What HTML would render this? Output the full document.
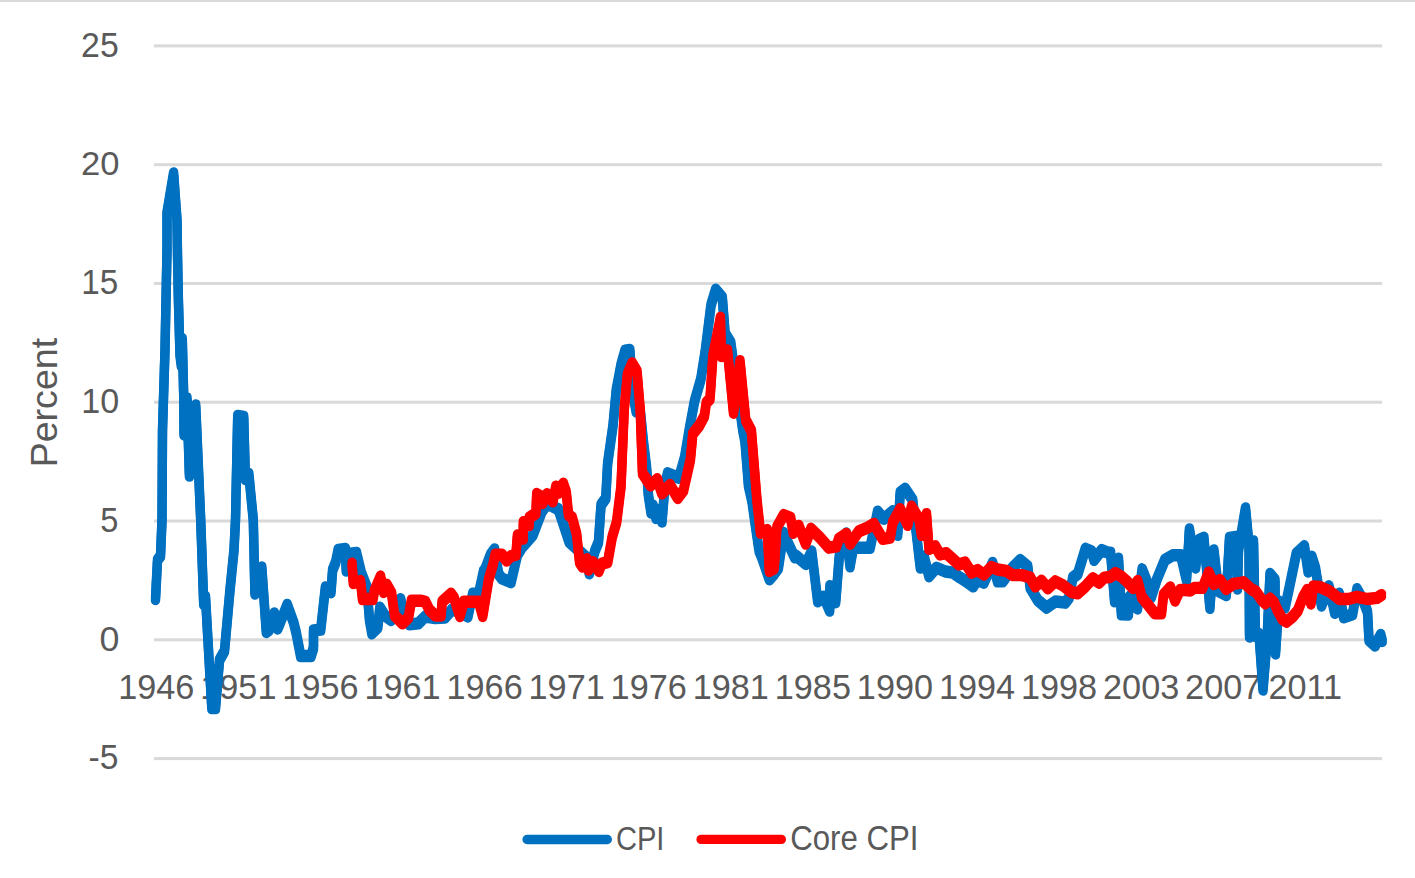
<!DOCTYPE html>
<html><head><meta charset="utf-8"><style>
html,body{margin:0;padding:0;background:#fff;width:1415px;height:878px;overflow:hidden}
svg{display:block}
.t{font-family:"Liberation Sans",sans-serif;font-size:36px;fill:#595959}
</style></head><body>
<svg width="1415" height="878" viewBox="0 0 1415 878">
<rect x="0" y="0" width="1415" height="2" fill="#d9d9d9"/>
<rect x="154" y="44.4" width="1228" height="3" fill="#d9d9d9"/>
<rect x="154" y="163.2" width="1228" height="3" fill="#d9d9d9"/>
<rect x="154" y="282.0" width="1228" height="3" fill="#d9d9d9"/>
<rect x="154" y="400.7" width="1228" height="3" fill="#d9d9d9"/>
<rect x="154" y="519.5" width="1228" height="3" fill="#d9d9d9"/>
<rect x="154" y="638.3" width="1228" height="3" fill="#d9d9d9"/>
<rect x="154" y="757.1" width="1228" height="3" fill="#d9d9d9"/>
<text transform="matrix(0.9415 0 0 0.9647 81.05 57.06)" class="t">25</text>
<text transform="matrix(0.9605 0 0 0.9451 81.02 174.76)" class="t">20</text>
<text transform="matrix(0.9245 0 0 0.9624 81.31 293.86)" class="t">15</text>
<text transform="matrix(0.9469 0 0 0.9608 81.35 413.06)" class="t">10</text>
<text transform="matrix(0.9059 0 0 0.9584 100.24 531.96)" class="t">5</text>
<text transform="matrix(0.9941 0 0 0.9529 99.61 650.86)" class="t">0</text>
<text transform="matrix(0.9345 0 0 0.9584 88.50 768.96)" class="t">-5</text>
<text transform="matrix(0.9518 0 0 0.9569 156.30 699.06)" text-anchor="middle" class="t">1946</text>
<text transform="matrix(0.9518 0 0 0.9569 238.37 699.06)" text-anchor="middle" class="t">1951</text>
<text transform="matrix(0.9518 0 0 0.9569 320.44 699.06)" text-anchor="middle" class="t">1956</text>
<text transform="matrix(0.9518 0 0 0.9569 402.51 699.06)" text-anchor="middle" class="t">1961</text>
<text transform="matrix(0.9518 0 0 0.9569 484.58 699.06)" text-anchor="middle" class="t">1966</text>
<text transform="matrix(0.9518 0 0 0.9569 566.65 699.06)" text-anchor="middle" class="t">1971</text>
<text transform="matrix(0.9518 0 0 0.9569 648.72 699.06)" text-anchor="middle" class="t">1976</text>
<text transform="matrix(0.9518 0 0 0.9569 730.79 699.06)" text-anchor="middle" class="t">1981</text>
<text transform="matrix(0.9518 0 0 0.9569 812.86 699.06)" text-anchor="middle" class="t">1985</text>
<text transform="matrix(0.9518 0 0 0.9569 894.93 699.06)" text-anchor="middle" class="t">1990</text>
<text transform="matrix(0.9518 0 0 0.9569 977.00 699.06)" text-anchor="middle" class="t">1994</text>
<text transform="matrix(0.9518 0 0 0.9569 1059.07 699.06)" text-anchor="middle" class="t">1998</text>
<text transform="matrix(0.9518 0 0 0.9569 1141.14 699.06)" text-anchor="middle" class="t">2003</text>
<text transform="matrix(0.9518 0 0 0.9569 1223.21 699.06)" text-anchor="middle" class="t">2007</text>
<text transform="matrix(0.9518 0 0 0.9569 1305.28 699.06)" text-anchor="middle" class="t">2011</text>
<text transform="translate(57.04 467.33) rotate(-90) scale(1.0435 1.0337)" class="t">Percent</text>
<line x1="527.1" y1="839.5" x2="607.3" y2="839.5" stroke="#0070c0" stroke-width="9.4" stroke-linecap="round"/>
<text transform="matrix(0.8091 0 0 0.9437 615.88 849.76)" class="t">CPI</text>
<line x1="701.1" y1="839.4" x2="781.3" y2="839.4" stroke="#ff0000" stroke-width="9.4" stroke-linecap="round"/>
<text transform="matrix(0.8671 0 0 0.9553 790.18 849.96)" class="t">Core CPI</text>
<path d="M155.5 599.0 L157.5 560.0 L160.5 556.0 L162.0 520.0 L162.5 430.0 L165.0 350.0 L167.0 250.0 L167.0 213.0 L173.6 173.5 L177.0 220.0 L177.5 255.0 L178.4 300.0 L180.0 355.0 L181.3 365.5 L182.3 339.5 L183.8 400.0 L184.0 434.5 L187.0 398.5 L189.4 475.5 L195.7 405.5 L200.7 520.0 L203.7 604.0 L205.5 597.0 L211.8 708.0 L215.5 708.0 L219.5 660.0 L224.5 651.0 L229.9 591.0 L234.0 550.0 L235.5 520.0 L237.7 416.0 L243.7 417.0 L245.4 479.0 L248.8 474.0 L253.3 520.0 L254.9 593.5 L261.8 567.5 L266.3 632.0 L269.0 630.0 L274.4 613.5 L277.7 628.5 L287.2 604.9 L293.6 622.5 L296.0 632.0 L300.7 656.0 L311.0 656.0 L313.5 648.0 L313.5 630.5 L320.7 629.7 L325.4 587.4 L331.0 592.2 L332.6 569.9 L335.8 561.9 L338.2 550.0 L345.4 549.0 L346.2 570.5 L348.6 554.0 L356.5 553.0 L361.3 573.0 L366.9 587.3 L369.5 620.0 L371.9 633.3 L377.8 627.4 L379.8 607.6 L384.7 615.5 L391.0 620.0 L400.6 599.2 L403.5 611.6 L409.5 624.4 L418.4 623.4 L425.3 616.5 L435.0 618.0 L445.1 617.5 L452.0 609.6 L460.0 612.0 L467.8 616.5 L472.8 593.7 L478.7 593.7 L483.6 571.2 L485.0 569.6 L490.6 554.8 L494.6 549.4 L498.6 574.2 L501.9 578.5 L511.0 582.2 L517.4 554.8 L521.9 547.5 L532.9 534.8 L542.0 511.1 L547.4 503.8 L558.4 509.3 L569.3 542.1 L585.7 556.7 L589.4 573.4 L594.8 551.2 L598.5 542.0 L601.0 505.0 L605.8 498.3 L607.6 463.7 L613.0 425.7 L616.2 390.6 L621.0 365.1 L625.0 350.7 L629.8 350.0 L633.0 393.8 L636.2 411.3 L640.2 409.7 L643.4 441.6 L646.5 467.1 L648.2 493.8 L651.0 512.5 L653.0 505.5 L656.0 518.0 L659.0 510.0 L662.0 521.5 L665.0 485.0 L667.6 473.3 L673.3 475.6 L679.0 477.8 L684.7 457.3 L689.4 429.0 L694.4 401.8 L700.8 379.4 L705.4 350.2 L711.0 305.1 L715.7 289.7 L722.3 297.6 L725.1 333.3 L730.7 342.7 L742.8 430.0 L745.0 441.4 L748.5 485.8 L751.9 500.6 L755.3 524.5 L759.1 550.6 L761.9 557.4 L769.4 579.3 L774.2 573.8 L778.3 568.3 L783.7 532.9 L787.2 541.0 L794.7 557.4 L796.2 555.9 L805.8 564.0 L811.7 551.4 L817.7 601.3 L823.7 596.6 L829.7 610.6 L829.9 586.1 L835.7 602.2 L839.3 555.9 L846.4 533.5 L850.0 566.3 L853.6 546.3 L857.6 547.7 L870.1 547.7 L877.6 511.6 L883.9 518.8 L892.7 511.3 L897.7 534.9 L900.2 492.5 L905.2 488.8 L912.7 500.0 L916.0 530.0 L920.3 567.5 L924.0 556.5 L929.0 576.2 L936.5 567.7 L945.3 571.5 L952.8 572.7 L960.0 577.6 L966.3 581.4 L973.2 586.4 L977.5 580.0 L983.9 582.7 L992.6 562.9 L997.6 581.4 L1002.7 581.4 L1012.7 567.6 L1020.2 560.1 L1027.7 566.4 L1030.2 587.7 L1037.7 600.2 L1046.5 607.7 L1055.3 601.5 L1065.3 602.7 L1069.1 597.7 L1072.8 577.6 L1077.8 573.9 L1085.4 548.8 L1091.6 551.3 L1094.1 559.9 L1101.7 550.1 L1107.9 552.6 L1110.6 552.8 L1114.6 601.4 L1118.5 558.8 L1121.4 614.3 L1128.4 614.5 L1129.6 596.7 L1137.5 608.5 L1142.1 569.3 L1147.8 583.8 L1151.2 597.1 L1156.9 579.2 L1164.9 559.9 L1172.8 555.3 L1180.8 555.3 L1186.5 580.0 L1189.4 529.5 L1195.6 567.5 L1199.0 540.0 L1203.9 537.6 L1209.9 607.9 L1213.9 550.4 L1218.5 591.0 L1226.3 595.0 L1229.5 538.0 L1236.0 537.0 L1237.5 588.5 L1238.5 550.0 L1245.5 508.5 L1249.0 545.0 L1249.5 636.5 L1253.5 541.5 L1255.5 636.0 L1259.0 634.0 L1263.0 689.5 L1267.0 640.0 L1270.0 574.0 L1275.0 580.0 L1275.5 653.5 L1279.0 601.5 L1285.0 607.5 L1289.0 589.0 L1296.3 553.7 L1304.4 546.3 L1308.1 571.5 L1311.8 556.7 L1315.5 568.5 L1321.5 605.5 L1328.9 586.3 L1334.8 612.9 L1339.2 593.7 L1343.7 617.4 L1352.5 614.4 L1357.0 589.2 L1363.0 600.0 L1367.5 612.0 L1369.0 640.0 L1375.0 645.5 L1380.7 635.0 L1382.2 641.0" fill="none" stroke="#0070c0" stroke-width="9.4" stroke-linejoin="round" stroke-linecap="round" transform="translate(0 -1.50)"/>
<path d="M155.5 599.0 L157.5 560.0 L160.5 556.0 L162.0 520.0 L162.5 430.0 L165.0 350.0 L167.0 250.0 L167.0 213.0 L173.6 173.5 L177.0 220.0 L177.5 255.0 L178.4 300.0 L180.0 355.0 L181.3 365.5 L182.3 339.5 L183.8 400.0 L184.0 434.5 L187.0 398.5 L189.4 475.5 L195.7 405.5 L200.7 520.0 L203.7 604.0 L205.5 597.0 L211.8 708.0 L215.5 708.0 L219.5 660.0 L224.5 651.0 L229.9 591.0 L234.0 550.0 L235.5 520.0 L237.7 416.0 L243.7 417.0 L245.4 479.0 L248.8 474.0 L253.3 520.0 L254.9 593.5 L261.8 567.5 L266.3 632.0 L269.0 630.0 L274.4 613.5 L277.7 628.5 L287.2 604.9 L293.6 622.5 L296.0 632.0 L300.7 656.0 L311.0 656.0 L313.5 648.0 L313.5 630.5 L320.7 629.7 L325.4 587.4 L331.0 592.2 L332.6 569.9 L335.8 561.9 L338.2 550.0 L345.4 549.0 L346.2 570.5 L348.6 554.0 L356.5 553.0 L361.3 573.0 L366.9 587.3 L369.5 620.0 L371.9 633.3 L377.8 627.4 L379.8 607.6 L384.7 615.5 L391.0 620.0 L400.6 599.2 L403.5 611.6 L409.5 624.4 L418.4 623.4 L425.3 616.5 L435.0 618.0 L445.1 617.5 L452.0 609.6 L460.0 612.0 L467.8 616.5 L472.8 593.7 L478.7 593.7 L483.6 571.2 L485.0 569.6 L490.6 554.8 L494.6 549.4 L498.6 574.2 L501.9 578.5 L511.0 582.2 L517.4 554.8 L521.9 547.5 L532.9 534.8 L542.0 511.1 L547.4 503.8 L558.4 509.3 L569.3 542.1 L585.7 556.7 L589.4 573.4 L594.8 551.2 L598.5 542.0 L601.0 505.0 L605.8 498.3 L607.6 463.7 L613.0 425.7 L616.2 390.6 L621.0 365.1 L625.0 350.7 L629.8 350.0 L633.0 393.8 L636.2 411.3 L640.2 409.7 L643.4 441.6 L646.5 467.1 L648.2 493.8 L651.0 512.5 L653.0 505.5 L656.0 518.0 L659.0 510.0 L662.0 521.5 L665.0 485.0 L667.6 473.3 L673.3 475.6 L679.0 477.8 L684.7 457.3 L689.4 429.0 L694.4 401.8 L700.8 379.4 L705.4 350.2 L711.0 305.1 L715.7 289.7 L722.3 297.6 L725.1 333.3 L730.7 342.7 L742.8 430.0 L745.0 441.4 L748.5 485.8 L751.9 500.6 L755.3 524.5 L759.1 550.6 L761.9 557.4 L769.4 579.3 L774.2 573.8 L778.3 568.3 L783.7 532.9 L787.2 541.0 L794.7 557.4 L796.2 555.9 L805.8 564.0 L811.7 551.4 L817.7 601.3 L823.7 596.6 L829.7 610.6 L829.9 586.1 L835.7 602.2 L839.3 555.9 L846.4 533.5 L850.0 566.3 L853.6 546.3 L857.6 547.7 L870.1 547.7 L877.6 511.6 L883.9 518.8 L892.7 511.3 L897.7 534.9 L900.2 492.5 L905.2 488.8 L912.7 500.0 L916.0 530.0 L920.3 567.5 L924.0 556.5 L929.0 576.2 L936.5 567.7 L945.3 571.5 L952.8 572.7 L960.0 577.6 L966.3 581.4 L973.2 586.4 L977.5 580.0 L983.9 582.7 L992.6 562.9 L997.6 581.4 L1002.7 581.4 L1012.7 567.6 L1020.2 560.1 L1027.7 566.4 L1030.2 587.7 L1037.7 600.2 L1046.5 607.7 L1055.3 601.5 L1065.3 602.7 L1069.1 597.7 L1072.8 577.6 L1077.8 573.9 L1085.4 548.8 L1091.6 551.3 L1094.1 559.9 L1101.7 550.1 L1107.9 552.6 L1110.6 552.8 L1114.6 601.4 L1118.5 558.8 L1121.4 614.3 L1128.4 614.5 L1129.6 596.7 L1137.5 608.5 L1142.1 569.3 L1147.8 583.8 L1151.2 597.1 L1156.9 579.2 L1164.9 559.9 L1172.8 555.3 L1180.8 555.3 L1186.5 580.0 L1189.4 529.5 L1195.6 567.5 L1199.0 540.0 L1203.9 537.6 L1209.9 607.9 L1213.9 550.4 L1218.5 591.0 L1226.3 595.0 L1229.5 538.0 L1236.0 537.0 L1237.5 588.5 L1238.5 550.0 L1245.5 508.5 L1249.0 545.0 L1249.5 636.5 L1253.5 541.5 L1255.5 636.0 L1259.0 634.0 L1263.0 689.5 L1267.0 640.0 L1270.0 574.0 L1275.0 580.0 L1275.5 653.5 L1279.0 601.5 L1285.0 607.5 L1289.0 589.0 L1296.3 553.7 L1304.4 546.3 L1308.1 571.5 L1311.8 556.7 L1315.5 568.5 L1321.5 605.5 L1328.9 586.3 L1334.8 612.9 L1339.2 593.7 L1343.7 617.4 L1352.5 614.4 L1357.0 589.2 L1363.0 600.0 L1367.5 612.0 L1369.0 640.0 L1375.0 645.5 L1380.7 635.0 L1382.2 641.0" fill="none" stroke="#0070c0" stroke-width="9.4" stroke-linejoin="round" stroke-linecap="round" transform="translate(0 1.50)"/>
<path d="M352.1 563.7 L353.3 583.0 L360.5 581.0 L362.5 599.0 L373.0 599.0 L374.5 590.5 L380.5 576.5 L383.7 592.0 L386.8 584.8 L391.5 593.0 L394.6 615.5 L402.5 623.4 L408.5 617.5 L411.4 600.7 L421.3 600.7 L425.3 601.7 L429.3 609.6 L435.2 615.5 L441.1 615.5 L442.1 601.7 L451.0 593.7 L454.0 597.7 L459.9 616.0 L463.9 601.7 L478.7 601.7 L482.7 616.0 L488.6 579.9 L492.9 565.0 L495.2 554.8 L502.0 554.8 L506.6 560.5 L511.1 556.0 L515.9 554.8 L517.4 535.5 L523.3 538.5 L523.3 522.2 L529.2 525.1 L529.2 517.7 L535.9 513.3 L536.7 494.0 L541.8 497.0 L542.6 503.0 L547.0 494.1 L552.9 501.4 L555.9 486.7 L558.9 492.5 L563.3 483.7 L566.3 492.6 L568.5 514.8 L572.2 517.7 L576.6 534.0 L579.6 562.2 L582.5 566.6 L587.0 559.2 L588.5 569.5 L592.9 562.2 L598.8 571.0 L601.8 563.6 L607.7 562.2 L612.2 537.0 L616.6 522.2 L621.0 486.7 L624.2 409.7 L627.4 374.6 L632.2 363.4 L637.0 371.5 L640.2 409.7 L642.5 473.3 L650.5 485.5 L657.3 479.3 L661.9 493.4 L669.9 485.0 L677.8 498.0 L683.5 490.4 L690.4 459.6 L692.8 433.7 L699.2 425.7 L704.4 416.0 L706.3 402.8 L710.0 399.0 L712.9 355.8 L720.4 317.8 L721.4 356.0 L727.5 350.5 L733.5 412.7 L740.0 361.1 L745.7 420.0 L751.4 431.0 L757.0 500.8 L760.5 532.8 L767.3 530.0 L769.4 571.0 L774.2 568.3 L776.9 527.3 L783.7 515.0 L790.6 517.8 L793.3 532.8 L798.8 526.0 L805.6 543.6 L811.0 528.8 L820.0 537.6 L828.8 547.7 L836.3 546.4 L838.8 538.9 L846.3 533.9 L850.1 543.7 L858.8 531.4 L867.6 527.6 L873.9 523.9 L882.7 538.9 L890.2 537.6 L892.7 522.6 L900.2 509.1 L907.7 524.9 L911.5 506.6 L919.0 518.8 L921.5 534.9 L926.5 514.1 L929.0 548.9 L935.3 546.4 L940.0 554.5 L946.3 553.2 L952.5 558.8 L958.8 564.5 L965.1 562.6 L971.3 572.6 L977.6 570.1 L983.9 574.5 L991.4 567.0 L997.6 569.5 L1006.4 570.8 L1012.7 575.1 L1021.5 575.1 L1030.2 577.6 L1035.2 586.4 L1041.5 580.8 L1047.8 588.3 L1055.3 581.4 L1062.8 585.2 L1071.6 592.1 L1077.8 593.3 L1085.4 586.4 L1092.9 578.3 L1099.1 582.7 L1104.2 577.6 L1110.0 577.0 L1115.4 573.1 L1121.3 576.5 L1126.5 581.0 L1133.0 588.0 L1137.6 581.0 L1141.8 597.0 L1147.8 604.7 L1154.7 613.2 L1161.5 613.2 L1163.5 595.0 L1170.3 587.5 L1175.1 600.5 L1180.0 590.0 L1185.1 590.0 L1190.2 590.5 L1194.3 587.9 L1202.5 587.9 L1208.7 572.5 L1213.8 584.0 L1220.0 580.0 L1226.0 589.0 L1233.3 583.8 L1243.5 582.3 L1251.7 589.5 L1255.8 591.5 L1262.0 600.2 L1265.1 603.3 L1270.2 598.7 L1274.3 602.8 L1277.4 610.0 L1282.5 619.2 L1286.6 621.7 L1292.7 616.6 L1297.9 610.5 L1303.0 597.1 L1307.1 590.0 L1311.0 603.5 L1313.2 586.4 L1320.0 587.0 L1329.1 591.1 L1339.4 599.0 L1348.5 599.0 L1357.0 596.8 L1367.3 599.0 L1377.0 597.9 L1381.5 595.1" fill="none" stroke="#ff0000" stroke-width="9.4" stroke-linejoin="round" stroke-linecap="round" transform="translate(0 -1.50)"/>
<path d="M352.1 563.7 L353.3 583.0 L360.5 581.0 L362.5 599.0 L373.0 599.0 L374.5 590.5 L380.5 576.5 L383.7 592.0 L386.8 584.8 L391.5 593.0 L394.6 615.5 L402.5 623.4 L408.5 617.5 L411.4 600.7 L421.3 600.7 L425.3 601.7 L429.3 609.6 L435.2 615.5 L441.1 615.5 L442.1 601.7 L451.0 593.7 L454.0 597.7 L459.9 616.0 L463.9 601.7 L478.7 601.7 L482.7 616.0 L488.6 579.9 L492.9 565.0 L495.2 554.8 L502.0 554.8 L506.6 560.5 L511.1 556.0 L515.9 554.8 L517.4 535.5 L523.3 538.5 L523.3 522.2 L529.2 525.1 L529.2 517.7 L535.9 513.3 L536.7 494.0 L541.8 497.0 L542.6 503.0 L547.0 494.1 L552.9 501.4 L555.9 486.7 L558.9 492.5 L563.3 483.7 L566.3 492.6 L568.5 514.8 L572.2 517.7 L576.6 534.0 L579.6 562.2 L582.5 566.6 L587.0 559.2 L588.5 569.5 L592.9 562.2 L598.8 571.0 L601.8 563.6 L607.7 562.2 L612.2 537.0 L616.6 522.2 L621.0 486.7 L624.2 409.7 L627.4 374.6 L632.2 363.4 L637.0 371.5 L640.2 409.7 L642.5 473.3 L650.5 485.5 L657.3 479.3 L661.9 493.4 L669.9 485.0 L677.8 498.0 L683.5 490.4 L690.4 459.6 L692.8 433.7 L699.2 425.7 L704.4 416.0 L706.3 402.8 L710.0 399.0 L712.9 355.8 L720.4 317.8 L721.4 356.0 L727.5 350.5 L733.5 412.7 L740.0 361.1 L745.7 420.0 L751.4 431.0 L757.0 500.8 L760.5 532.8 L767.3 530.0 L769.4 571.0 L774.2 568.3 L776.9 527.3 L783.7 515.0 L790.6 517.8 L793.3 532.8 L798.8 526.0 L805.6 543.6 L811.0 528.8 L820.0 537.6 L828.8 547.7 L836.3 546.4 L838.8 538.9 L846.3 533.9 L850.1 543.7 L858.8 531.4 L867.6 527.6 L873.9 523.9 L882.7 538.9 L890.2 537.6 L892.7 522.6 L900.2 509.1 L907.7 524.9 L911.5 506.6 L919.0 518.8 L921.5 534.9 L926.5 514.1 L929.0 548.9 L935.3 546.4 L940.0 554.5 L946.3 553.2 L952.5 558.8 L958.8 564.5 L965.1 562.6 L971.3 572.6 L977.6 570.1 L983.9 574.5 L991.4 567.0 L997.6 569.5 L1006.4 570.8 L1012.7 575.1 L1021.5 575.1 L1030.2 577.6 L1035.2 586.4 L1041.5 580.8 L1047.8 588.3 L1055.3 581.4 L1062.8 585.2 L1071.6 592.1 L1077.8 593.3 L1085.4 586.4 L1092.9 578.3 L1099.1 582.7 L1104.2 577.6 L1110.0 577.0 L1115.4 573.1 L1121.3 576.5 L1126.5 581.0 L1133.0 588.0 L1137.6 581.0 L1141.8 597.0 L1147.8 604.7 L1154.7 613.2 L1161.5 613.2 L1163.5 595.0 L1170.3 587.5 L1175.1 600.5 L1180.0 590.0 L1185.1 590.0 L1190.2 590.5 L1194.3 587.9 L1202.5 587.9 L1208.7 572.5 L1213.8 584.0 L1220.0 580.0 L1226.0 589.0 L1233.3 583.8 L1243.5 582.3 L1251.7 589.5 L1255.8 591.5 L1262.0 600.2 L1265.1 603.3 L1270.2 598.7 L1274.3 602.8 L1277.4 610.0 L1282.5 619.2 L1286.6 621.7 L1292.7 616.6 L1297.9 610.5 L1303.0 597.1 L1307.1 590.0 L1311.0 603.5 L1313.2 586.4 L1320.0 587.0 L1329.1 591.1 L1339.4 599.0 L1348.5 599.0 L1357.0 596.8 L1367.3 599.0 L1377.0 597.9 L1381.5 595.1" fill="none" stroke="#ff0000" stroke-width="9.4" stroke-linejoin="round" stroke-linecap="round" transform="translate(0 1.50)"/>
</svg>
</body></html>
